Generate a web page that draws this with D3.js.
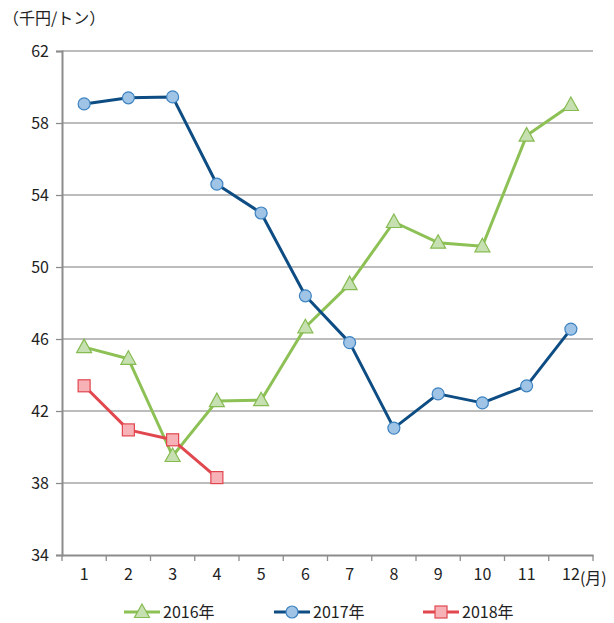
<!DOCTYPE html>
<html><head><meta charset="utf-8">
<script src="https://cdn.jsdelivr.net/npm/d3@7"></script>
<style>body{margin:0;background:#fff}svg{display:block}text{font-family:"Noto Sans CJK JP","Noto Sans",sans-serif;fill:#222}</style>
</head><body>
<svg id="c" width="614" height="623"></svg>
<script>
const months = ["1","2","3","4","5","6","7","8","9","10","11","12"];
const yTicks = [34,38,42,46,50,54,58,62];
const s2016 = [45.55,44.9,39.5,42.55,42.6,46.65,49.05,52.5,51.35,51.15,57.3,59.0];
const s2017 = [59.06,59.4,59.45,54.6,53.0,48.4,45.8,41.05,42.95,42.45,43.4,46.55];
const s2018 = [43.4,40.95,40.4,38.3];
const seriesNames = ["2016年","2017年","2018年"];

const svg = d3.select("#c");
const L = 62, R = 593, T = 51, B = 555;
const FS = 16;
const x = d3.scaleBand().domain(months).range([L, R]);
const y = d3.scaleLinear().domain([34, 62]).range([B, T]);

// grid
svg.append("g").selectAll("line").data(yTicks.filter(d => d > 34)).join("line")
  .attr("x1", L).attr("x2", R).attr("y1", d => y(d)).attr("y2", d => y(d))
  .attr("stroke", "#a6a6a6").attr("stroke-width", 1.3);

// y axis
const ya = svg.append("g").attr("transform", `translate(${L},0)`)
  .call(d3.axisLeft(y).tickValues(yTicks).tickSize(6).tickPadding(7));
ya.select(".domain").attr("stroke", "#8c8c8c").attr("stroke-width", 2);
ya.selectAll(".tick line").attr("stroke", "#8c8c8c").attr("stroke-width", 1.3);
ya.selectAll("text").attr("font-size", FS).style("font-family", '"Noto Sans CJK JP",sans-serif').attr("fill", "#222");

// x axis
const xa = svg.append("g").attr("transform", `translate(0,${B})`)
  .call(d3.axisBottom(x).tickSize(0).tickPadding(14));
xa.select(".domain").attr("stroke", "#8c8c8c").attr("stroke-width", 2);
xa.selectAll("text").attr("font-size", FS).style("font-family", '"Noto Sans CJK JP",sans-serif').attr("fill", "#222");
// boundary ticks
const bounds = months.map(m => x(m)).concat([R]);
svg.append("g").selectAll("line").data(bounds).join("line")
  .attr("x1", d => d).attr("x2", d => d).attr("y1", B).attr("y2", B + 6)
  .attr("stroke", "#8c8c8c").attr("stroke-width", 1.3);
svg.append("text").attr("x", x("12") + x.bandwidth() / 2 + 9).attr("y", B + 29)
  .attr("font-size", FS).text("(月)");

svg.append("text").attr("x", 3).attr("y", 24).attr("font-size", FS).text("（千円/トン）");

const cx = i => x(months[i]) + x.bandwidth() / 2;
const styles = [
  {data: s2016, line: "#8dc155", fill: "#c6e0b1", stroke: "#86bb52", shape: "tri"},
  {data: s2017, line: "#0e4d84", fill: "#9fc4e6", stroke: "#3d83c2", shape: "circ"},
  {data: s2018, line: "#e1474f", fill: "#f6b2b6", stroke: "#e1474f", shape: "sq"}
];
function marker(g, shape, st, px, py) {
  if (shape === "tri") {
    g.append("path").attr("d", `M${px},${py-8}L${px+7.5},${py+5.5}L${px-7.5},${py+5.5}Z`)
      .attr("fill", st.fill).attr("stroke", st.stroke).attr("stroke-width", 1.2);
  } else if (shape === "circ") {
    g.append("circle").attr("cx", px).attr("cy", py).attr("r", 6)
      .attr("fill", st.fill).attr("stroke", st.stroke).attr("stroke-width", 1.2);
  } else {
    g.append("rect").attr("x", px - 6).attr("y", py - 6).attr("width", 12).attr("height", 12)
      .attr("fill", st.fill).attr("stroke", st.stroke).attr("stroke-width", 1.2);
  }
}
const line = d3.line().x((d, i) => cx(i)).y(d => y(d));
styles.forEach(st => {
  const g = svg.append("g");
  g.append("path").attr("d", line(st.data)).attr("fill", "none")
    .attr("stroke", st.line).attr("stroke-width", 3).attr("stroke-linejoin", "round");
  st.data.forEach((v, i) => marker(g, st.shape, st, cx(i), y(v)));
});

// legend
const lx = [124, 274, 423], ly = 612;
styles.forEach((st, k) => {
  const g = svg.append("g");
  g.append("line").attr("x1", lx[k]).attr("x2", lx[k] + 36).attr("y1", ly).attr("y2", ly)
    .attr("stroke", st.line).attr("stroke-width", 3);
  marker(g, st.shape, st, lx[k] + 18, ly);
  g.append("text").attr("x", lx[k] + 39).attr("y", ly + 6).attr("font-size", FS).text(seriesNames[k]);
});
</script>
</body></html>
